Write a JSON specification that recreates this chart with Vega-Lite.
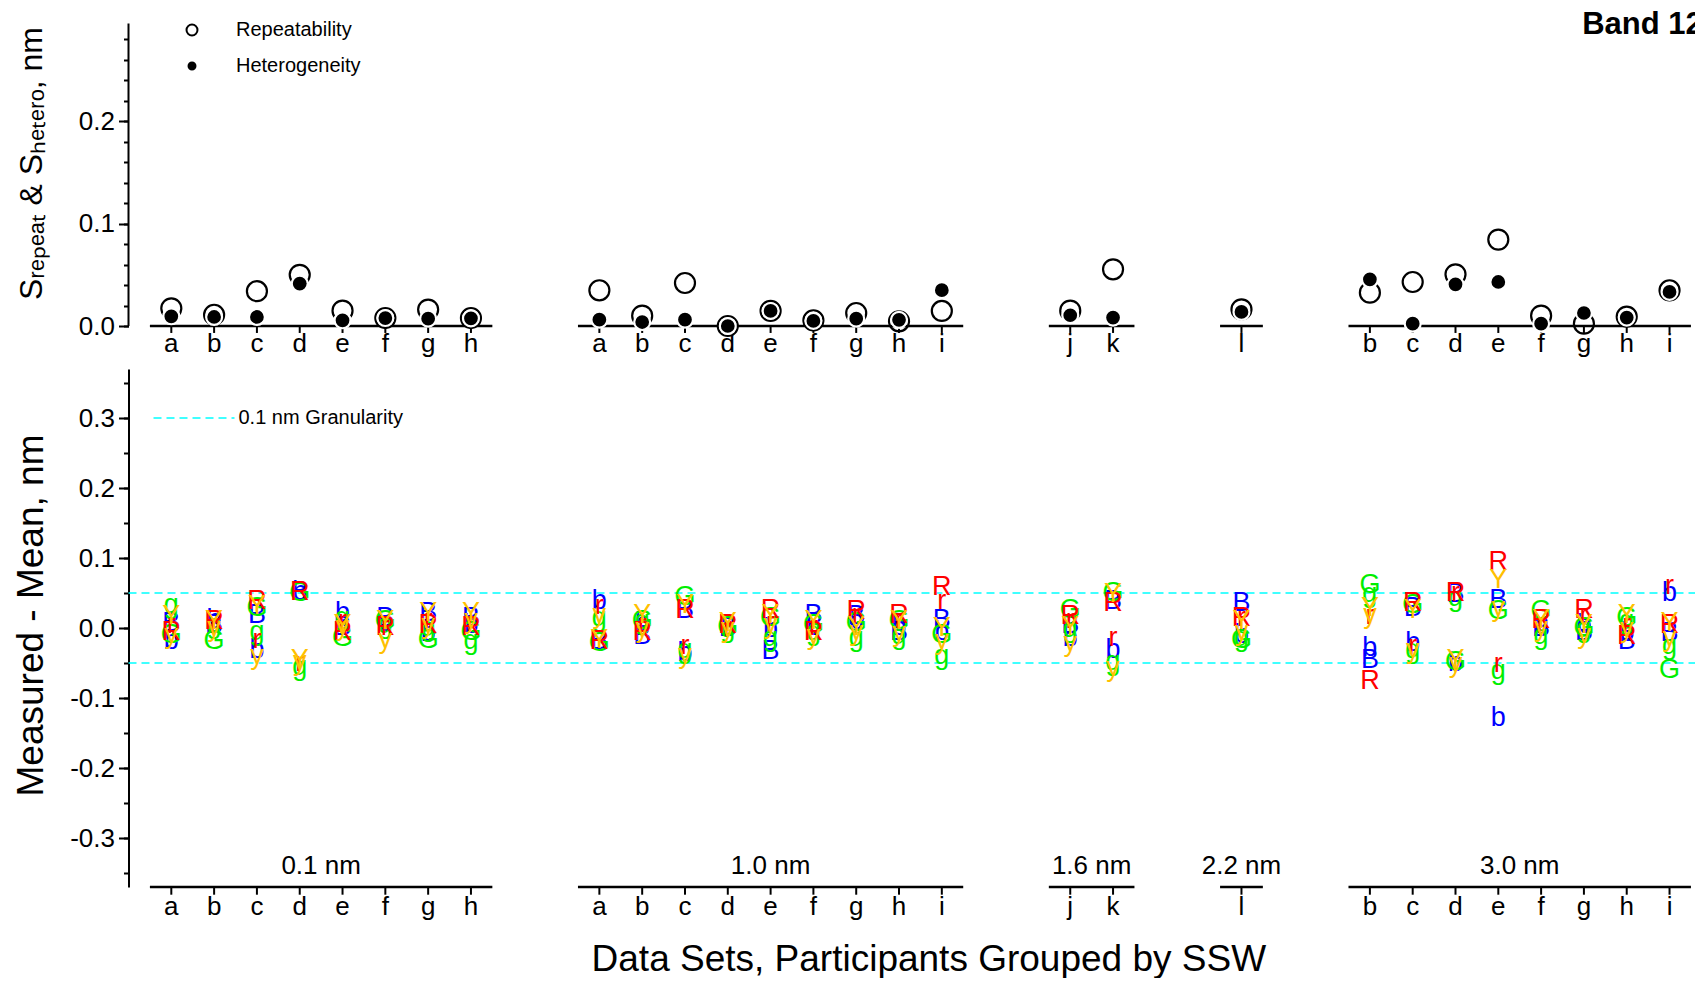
{
  "$schema": "https://vega.github.io/schema/vega-lite/v6.json",
  "padding": {"left": 11.5, "top": 0, "right": 0, "bottom": 0},
  "autosize": {"type": "pad"},
  "background": "white",
  "spacing": 43,
  "bounds": "flush",
  "title": {"text": "Data Sets, Participants Grouped by SSW", "orient": "bottom", "anchor": "middle", "fontSize": 37, "font": "Liberation Sans", "fontWeight": "normal", "color": "black", "offset": 22, "dx": 74},
  "resolve": {
    "scale": {"stroke": "independent", "fill": "independent", "size": "independent", "color": "independent"},
    "legend": {"stroke": "independent", "fill": "independent", "size": "independent", "color": "independent"}
  },
  "config": {
    "view": {"stroke": null},
    "font": "Liberation Sans",
    "axis": {"grid": false, "domainColor": "black", "tickColor": "black", "labelColor": "black", "titleColor": "black", "labelFont": "Liberation Sans", "titleFont": "Liberation Sans", "titleFontWeight": "normal"},
    "text": {"font": "Liberation Sans", "color": "black"}
  },
  "datasets": {
    "top": [
      {"s": 0, "k": "Repeatability", "v": 0.0173}, {"s": 1, "k": "Repeatability", "v": 0.011}, {"s": 2, "k": "Repeatability", "v": 0.034}, {"s": 3, "k": "Repeatability", "v": 0.050}, {"s": 4, "k": "Repeatability", "v": 0.015}, {"s": 5, "k": "Repeatability", "v": 0.0078}, {"s": 6, "k": "Repeatability", "v": 0.016}, {"s": 7, "k": "Repeatability", "v": 0.0078},
      {"s": 10, "k": "Repeatability", "v": 0.0349}, {"s": 11, "k": "Repeatability", "v": 0.0101}, {"s": 12, "k": "Repeatability", "v": 0.042}, {"s": 13, "k": "Repeatability", "v": 0.0}, {"s": 14, "k": "Repeatability", "v": 0.0147}, {"s": 15, "k": "Repeatability", "v": 0.0056}, {"s": 16, "k": "Repeatability", "v": 0.0127}, {"s": 17, "k": "Repeatability", "v": 0.0046}, {"s": 18, "k": "Repeatability", "v": 0.0147},
      {"s": 21, "k": "Repeatability", "v": 0.015}, {"s": 22, "k": "Repeatability", "v": 0.0554},
      {"s": 25, "k": "Repeatability", "v": 0.0163},
      {"s": 28, "k": "Repeatability", "v": 0.0326}, {"s": 29, "k": "Repeatability", "v": 0.043}, {"s": 30, "k": "Repeatability", "v": 0.0505}, {"s": 31, "k": "Repeatability", "v": 0.0844}, {"s": 32, "k": "Repeatability", "v": 0.0101}, {"s": 33, "k": "Repeatability", "v": 0.0023}, {"s": 34, "k": "Repeatability", "v": 0.0092}, {"s": 35, "k": "Repeatability", "v": 0.0349},
      {"s": 0, "k": "Heterogeneity", "v": 0.0095}, {"s": 1, "k": "Heterogeneity", "v": 0.0088}, {"s": 2, "k": "Heterogeneity", "v": 0.0088}, {"s": 3, "k": "Heterogeneity", "v": 0.0414}, {"s": 4, "k": "Heterogeneity", "v": 0.0056}, {"s": 5, "k": "Heterogeneity", "v": 0.0078}, {"s": 6, "k": "Heterogeneity", "v": 0.0072}, {"s": 7, "k": "Heterogeneity", "v": 0.0075},
      {"s": 10, "k": "Heterogeneity", "v": 0.0062}, {"s": 11, "k": "Heterogeneity", "v": 0.0039}, {"s": 12, "k": "Heterogeneity", "v": 0.0062}, {"s": 13, "k": "Heterogeneity", "v": 0.0}, {"s": 14, "k": "Heterogeneity", "v": 0.0147}, {"s": 15, "k": "Heterogeneity", "v": 0.005}, {"s": 16, "k": "Heterogeneity", "v": 0.0072}, {"s": 17, "k": "Heterogeneity", "v": 0.006}, {"s": 18, "k": "Heterogeneity", "v": 0.035},
      {"s": 21, "k": "Heterogeneity", "v": 0.0105}, {"s": 22, "k": "Heterogeneity", "v": 0.0082},
      {"s": 25, "k": "Heterogeneity", "v": 0.0137},
      {"s": 28, "k": "Heterogeneity", "v": 0.0456}, {"s": 29, "k": "Heterogeneity", "v": 0.0023}, {"s": 30, "k": "Heterogeneity", "v": 0.0407}, {"s": 31, "k": "Heterogeneity", "v": 0.043}, {"s": 32, "k": "Heterogeneity", "v": 0.0023}, {"s": 33, "k": "Heterogeneity", "v": 0.0127}, {"s": 34, "k": "Heterogeneity", "v": 0.0082}, {"s": 35, "k": "Heterogeneity", "v": 0.0333}
    ],
    "cats": [
      {"s": 0, "lab": "a"}, {"s": 1, "lab": "b"}, {"s": 2, "lab": "c"}, {"s": 3, "lab": "d"}, {"s": 4, "lab": "e"}, {"s": 5, "lab": "f"}, {"s": 6, "lab": "g"}, {"s": 7, "lab": "h"},
      {"s": 10, "lab": "a"}, {"s": 11, "lab": "b"}, {"s": 12, "lab": "c"}, {"s": 13, "lab": "d"}, {"s": 14, "lab": "e"}, {"s": 15, "lab": "f"}, {"s": 16, "lab": "g"}, {"s": 17, "lab": "h"}, {"s": 18, "lab": "i"},
      {"s": 21, "lab": "j"}, {"s": 22, "lab": "k"},
      {"s": 25, "lab": "l"},
      {"s": 28, "lab": "b"}, {"s": 29, "lab": "c"}, {"s": 30, "lab": "d"}, {"s": 31, "lab": "e"}, {"s": 32, "lab": "f"}, {"s": 33, "lab": "g"}, {"s": 34, "lab": "h"}, {"s": 35, "lab": "i"}
    ],
    "groups": [
      {"s": -0.5, "s1": 7.5, "m": 3.5, "g": "0.1 nm"},
      {"s": 9.5, "s1": 18.5, "m": 14, "g": "1.0 nm"},
      {"s": 20.5, "s1": 22.5, "m": 21.5, "g": "1.6 nm"},
      {"s": 24.5, "s1": 25.5, "m": 25, "g": "2.2 nm"},
      {"s": 27.5, "s1": 35.5, "m": 31.5, "g": "3.0 nm"}
    ],
    "letters": [
      {"s": 0, "L": "B", "v": 0.007}, {"s": 0, "L": "b", "v": -0.019}, {"s": 0, "L": "G", "v": -0.01}, {"s": 0, "L": "g", "v": 0.033}, {"s": 0, "L": "R", "v": -0.005}, {"s": 0, "L": "r", "v": 0.005}, {"s": 0, "L": "Y", "v": 0.017}, {"s": 0, "L": "y", "v": -0.01},
      {"s": 1, "L": "B", "v": 0.005}, {"s": 1, "L": "b", "v": 0.012}, {"s": 1, "L": "G", "v": -0.019}, {"s": 1, "L": "g", "v": 0.005}, {"s": 1, "L": "R", "v": 0.01}, {"s": 1, "L": "r", "v": 0.005}, {"s": 1, "L": "Y", "v": 0.01}, {"s": 1, "L": "y", "v": 0.0},
      {"s": 2, "L": "B", "v": 0.019}, {"s": 2, "L": "b", "v": -0.031}, {"s": 2, "L": "G", "v": 0.028}, {"s": 2, "L": "g", "v": -0.005}, {"s": 2, "L": "R", "v": 0.038}, {"s": 2, "L": "r", "v": -0.017}, {"s": 2, "L": "Y", "v": 0.031}, {"s": 2, "L": "y", "v": -0.04},
      {"s": 3, "L": "B", "v": 0.052}, {"s": 3, "L": "b", "v": 0.052}, {"s": 3, "L": "G", "v": 0.05}, {"s": 3, "L": "g", "v": -0.055}, {"s": 3, "L": "R", "v": 0.052}, {"s": 3, "L": "r", "v": -0.05}, {"s": 3, "L": "Y", "v": -0.045}, {"s": 3, "L": "y", "v": -0.048},
      {"s": 4, "L": "B", "v": 0.002}, {"s": 4, "L": "b", "v": 0.021}, {"s": 4, "L": "G", "v": -0.014}, {"s": 4, "L": "g", "v": 0.014}, {"s": 4, "L": "R", "v": -0.005}, {"s": 4, "L": "r", "v": 0.01}, {"s": 4, "L": "Y", "v": 0.005}, {"s": 4, "L": "y", "v": 0.002},
      {"s": 5, "L": "B", "v": 0.014}, {"s": 5, "L": "b", "v": 0.007}, {"s": 5, "L": "G", "v": 0.01}, {"s": 5, "L": "g", "v": 0.005}, {"s": 5, "L": "R", "v": 0.002}, {"s": 5, "L": "r", "v": 0.002}, {"s": 5, "L": "Y", "v": 0.01}, {"s": 5, "L": "y", "v": -0.017},
      {"s": 6, "L": "B", "v": 0.021}, {"s": 6, "L": "b", "v": -0.007}, {"s": 6, "L": "G", "v": -0.017}, {"s": 6, "L": "g", "v": 0.0}, {"s": 6, "L": "R", "v": 0.005}, {"s": 6, "L": "r", "v": 0.012}, {"s": 6, "L": "Y", "v": 0.021}, {"s": 6, "L": "y", "v": 0.005},
      {"s": 7, "L": "B", "v": 0.014}, {"s": 7, "L": "b", "v": 0.005}, {"s": 7, "L": "G", "v": -0.005}, {"s": 7, "L": "g", "v": -0.019}, {"s": 7, "L": "R", "v": 0.002}, {"s": 7, "L": "r", "v": 0.007}, {"s": 7, "L": "Y", "v": 0.021}, {"s": 7, "L": "y", "v": 0.012},
      {"s": 10, "L": "B", "v": -0.019}, {"s": 10, "L": "b", "v": 0.038}, {"s": 10, "L": "G", "v": -0.021}, {"s": 10, "L": "g", "v": 0.014}, {"s": 10, "L": "R", "v": -0.019}, {"s": 10, "L": "r", "v": 0.031}, {"s": 10, "L": "Y", "v": -0.017}, {"s": 10, "L": "y", "v": 0.019},
      {"s": 11, "L": "B", "v": -0.012}, {"s": 11, "L": "b", "v": 0.007}, {"s": 11, "L": "G", "v": 0.01}, {"s": 11, "L": "g", "v": 0.01}, {"s": 11, "L": "R", "v": -0.005}, {"s": 11, "L": "r", "v": 0.005}, {"s": 11, "L": "Y", "v": 0.019}, {"s": 11, "L": "y", "v": -0.002},
      {"s": 12, "L": "B", "v": 0.026}, {"s": 12, "L": "b", "v": -0.036}, {"s": 12, "L": "G", "v": 0.045}, {"s": 12, "L": "g", "v": -0.031}, {"s": 12, "L": "R", "v": 0.026}, {"s": 12, "L": "r", "v": -0.026}, {"s": 12, "L": "Y", "v": 0.033}, {"s": 12, "L": "y", "v": -0.038},
      {"s": 13, "L": "B", "v": 0.0}, {"s": 13, "L": "b", "v": 0.0}, {"s": 13, "L": "G", "v": 0.002}, {"s": 13, "L": "g", "v": -0.002}, {"s": 13, "L": "R", "v": 0.005}, {"s": 13, "L": "r", "v": 0.0}, {"s": 13, "L": "Y", "v": 0.007}, {"s": 13, "L": "y", "v": -0.002},
      {"s": 14, "L": "B", "v": -0.033}, {"s": 14, "L": "b", "v": -0.002}, {"s": 14, "L": "G", "v": 0.014}, {"s": 14, "L": "g", "v": -0.014}, {"s": 14, "L": "R", "v": 0.026}, {"s": 14, "L": "r", "v": 0.007}, {"s": 14, "L": "Y", "v": 0.019}, {"s": 14, "L": "y", "v": 0.005},
      {"s": 15, "L": "B", "v": 0.019}, {"s": 15, "L": "b", "v": 0.002}, {"s": 15, "L": "G", "v": 0.005}, {"s": 15, "L": "g", "v": -0.005}, {"s": 15, "L": "R", "v": -0.005}, {"s": 15, "L": "r", "v": 0.002}, {"s": 15, "L": "Y", "v": 0.01}, {"s": 15, "L": "y", "v": -0.012},
      {"s": 16, "L": "B", "v": 0.017}, {"s": 16, "L": "b", "v": 0.01}, {"s": 16, "L": "G", "v": 0.007}, {"s": 16, "L": "g", "v": -0.014}, {"s": 16, "L": "R", "v": 0.024}, {"s": 16, "L": "r", "v": 0.019}, {"s": 16, "L": "Y", "v": 0.002}, {"s": 16, "L": "y", "v": -0.005},
      {"s": 17, "L": "B", "v": -0.005}, {"s": 17, "L": "b", "v": 0.002}, {"s": 17, "L": "G", "v": 0.01}, {"s": 17, "L": "g", "v": -0.012}, {"s": 17, "L": "R", "v": 0.019}, {"s": 17, "L": "r", "v": 0.012}, {"s": 17, "L": "Y", "v": 0.01}, {"s": 17, "L": "y", "v": -0.007},
      {"s": 18, "L": "B", "v": 0.012}, {"s": 18, "L": "b", "v": -0.005}, {"s": 18, "L": "G", "v": -0.01}, {"s": 18, "L": "g", "v": -0.04}, {"s": 18, "L": "R", "v": 0.059}, {"s": 18, "L": "r", "v": 0.038}, {"s": 18, "L": "Y", "v": 0.0}, {"s": 18, "L": "y", "v": -0.019},
      {"s": 21, "L": "B", "v": 0.005}, {"s": 21, "L": "b", "v": -0.014}, {"s": 21, "L": "G", "v": 0.026}, {"s": 21, "L": "g", "v": -0.002}, {"s": 21, "L": "R", "v": 0.017}, {"s": 21, "L": "r", "v": 0.012}, {"s": 21, "L": "Y", "v": 0.002}, {"s": 21, "L": "y", "v": -0.021},
      {"s": 22, "L": "B", "v": 0.038}, {"s": 22, "L": "b", "v": -0.031}, {"s": 22, "L": "G", "v": 0.05}, {"s": 22, "L": "g", "v": -0.048}, {"s": 22, "L": "R", "v": 0.036}, {"s": 22, "L": "r", "v": -0.014}, {"s": 22, "L": "Y", "v": 0.048}, {"s": 22, "L": "y", "v": -0.057},
      {"s": 25, "L": "B", "v": 0.036}, {"s": 25, "L": "b", "v": -0.01}, {"s": 25, "L": "G", "v": -0.017}, {"s": 25, "L": "g", "v": -0.014}, {"s": 25, "L": "R", "v": 0.014}, {"s": 25, "L": "r", "v": 0.014}, {"s": 25, "L": "Y", "v": 0.01}, {"s": 25, "L": "y", "v": -0.005},
      {"s": 28, "L": "B", "v": -0.045}, {"s": 28, "L": "b", "v": -0.029}, {"s": 28, "L": "G", "v": 0.062}, {"s": 28, "L": "g", "v": 0.048}, {"s": 28, "L": "R", "v": -0.076}, {"s": 28, "L": "r", "v": 0.017}, {"s": 28, "L": "Y", "v": 0.029}, {"s": 28, "L": "y", "v": 0.019},
      {"s": 29, "L": "B", "v": 0.029}, {"s": 29, "L": "b", "v": -0.021}, {"s": 29, "L": "G", "v": 0.033}, {"s": 29, "L": "g", "v": -0.031}, {"s": 29, "L": "R", "v": 0.036}, {"s": 29, "L": "r", "v": -0.026}, {"s": 29, "L": "Y", "v": 0.026}, {"s": 29, "L": "y", "v": -0.031},
      {"s": 30, "L": "B", "v": 0.048}, {"s": 30, "L": "b", "v": -0.05}, {"s": 30, "L": "G", "v": -0.048}, {"s": 30, "L": "g", "v": 0.043}, {"s": 30, "L": "R", "v": 0.05}, {"s": 30, "L": "r", "v": 0.05}, {"s": 30, "L": "Y", "v": -0.045}, {"s": 30, "L": "y", "v": -0.052},
      {"s": 31, "L": "B", "v": 0.04}, {"s": 31, "L": "b", "v": -0.129}, {"s": 31, "L": "G", "v": 0.024}, {"s": 31, "L": "g", "v": -0.062}, {"s": 31, "L": "R", "v": 0.095}, {"s": 31, "L": "r", "v": -0.052}, {"s": 31, "L": "Y", "v": 0.069}, {"s": 31, "L": "y", "v": 0.029},
      {"s": 32, "L": "B", "v": 0.0}, {"s": 32, "L": "b", "v": 0.003}, {"s": 32, "L": "G", "v": 0.024}, {"s": 32, "L": "g", "v": -0.012}, {"s": 32, "L": "R", "v": 0.012}, {"s": 32, "L": "r", "v": 0.005}, {"s": 32, "L": "Y", "v": 0.012}, {"s": 32, "L": "y", "v": 0.0},
      {"s": 33, "L": "B", "v": -0.005}, {"s": 33, "L": "b", "v": 0.005}, {"s": 33, "L": "G", "v": 0.0}, {"s": 33, "L": "g", "v": -0.002}, {"s": 33, "L": "R", "v": 0.026}, {"s": 33, "L": "r", "v": 0.019}, {"s": 33, "L": "Y", "v": 0.005}, {"s": 33, "L": "y", "v": -0.01},
      {"s": 34, "L": "B", "v": -0.019}, {"s": 34, "L": "b", "v": -0.007}, {"s": 34, "L": "G", "v": 0.014}, {"s": 34, "L": "g", "v": 0.01}, {"s": 34, "L": "R", "v": -0.012}, {"s": 34, "L": "r", "v": 0.005}, {"s": 34, "L": "Y", "v": 0.019}, {"s": 34, "L": "y", "v": -0.002},
      {"s": 35, "L": "B", "v": -0.007}, {"s": 35, "L": "b", "v": 0.05}, {"s": 35, "L": "G", "v": -0.06}, {"s": 35, "L": "g", "v": -0.026}, {"s": 35, "L": "R", "v": 0.005}, {"s": 35, "L": "r", "v": 0.06}, {"s": 35, "L": "Y", "v": 0.007}, {"s": 35, "L": "y", "v": -0.014}
    ]
  },
  "vconcat": [
    {
      "width": 1568,
      "height": 326,
      "resolve": {"axis": {"y": "independent"}},
      "layer": [
        {
          "data": {"values": [{"a": 0, "b": 0.2955}]},
          "mark": {"type": "rule", "color": "black", "strokeWidth": 2},
          "encoding": {
            "x": {"datum": -1, "type": "quantitative", "scale": {"domain": [-1, 35.63], "nice": false, "zero": false}, "axis": null},
            "y": {
              "field": "a", "type": "quantitative", "scale": {"domain": [0, 0.3185], "nice": false, "zero": false},
              "axis": {"orient": "left", "values": [0, 0.02, 0.04, 0.06, 0.08, 0.1, 0.12, 0.14, 0.16, 0.18, 0.2, 0.22, 0.24, 0.26, 0.28], "domain": false, "labels": false, "tickSize": 5, "tickWidth": 2, "title": null}
            },
            "y2": {"field": "b"}
          }
        },
        {
          "data": {"name": "groups"},
          "mark": {"type": "rule", "color": "black", "strokeWidth": 2.5},
          "encoding": {
            "x": {"field": "s", "type": "quantitative", "axis": null},
            "x2": {"field": "s1"},
            "y": {"datum": 0, "type": "quantitative", "axis": null}
          }
        },
        {
          "data": {"name": "cats"},
          "mark": {"type": "rule", "color": "black", "strokeWidth": 2},
          "encoding": {
            "x": {"field": "s", "type": "quantitative", "axis": null},
            "y": {"datum": 0, "type": "quantitative", "axis": null},
            "y2": {"datum": -0.0068}
          }
        },
        {
          "data": {"name": "cats"},
          "mark": {"type": "text", "fontSize": 26, "baseline": "middle", "align": "center", "dy": 18},
          "encoding": {
            "x": {"field": "s", "type": "quantitative", "axis": null},
            "y": {"datum": 0, "type": "quantitative", "axis": null},
            "text": {"field": "lab"}
          }
        },
        {
          "data": {"name": "top"},
          "mark": {"type": "point", "shape": "circle", "strokeWidth": 2.2, "opacity": 1},
          "encoding": {
            "x": {"field": "s", "type": "quantitative", "axis": null},
            "y": {
              "field": "v", "type": "quantitative",
              "axis": {
                "orient": "left",
                "values": [0, 0.1, 0.2],
                "format": ".1f",
                "domain": false,
                "tickWidth": 2,
                "tickSize": 10,
                "labelOverlap": false,
                "labelFlush": false,
                "labelFontSize": 26,
                "labelPadding": 4,
                "title": "Sᵣₑₚₑₐₜ & Sₕₑₜₑᵣₒ, nm",
                "titleFontSize": 32,
                "titleX": -97,
                "titleY": 163,
                "titleBaseline": "middle",
                "titleAngle": 270
              }
            },
            "fill": {
              "field": "k", "type": "nominal",
              "scale": {"domain": ["Repeatability", "Heterogeneity"], "range": ["transparent", "black"]},
              "legend": {"title": null, "orient": "none", "legendX": 53.5, "legendY": 20, "labelFontSize": 20, "labelFont": "Liberation Sans", "labelColor": "black", "symbolSize": 120, "symbolStrokeWidth": 2, "symbolType": "circle", "labelOffset": 34, "rowPadding": 16, "padding": 0, "labelLimit": 500}
            },
            "stroke": {
              "field": "k", "type": "nominal",
              "scale": {"domain": ["Repeatability", "Heterogeneity"], "range": ["black", "white"]},
              "legend": {"title": null, "orient": "none", "legendX": 53.5, "legendY": 20, "labelFontSize": 20, "labelFont": "Liberation Sans", "labelColor": "black", "symbolSize": 120, "symbolStrokeWidth": 2, "symbolType": "circle", "labelOffset": 34, "rowPadding": 16, "padding": 0, "labelLimit": 500}
            },
            "size": {
              "field": "k", "type": "nominal",
              "scale": {"domain": ["Heterogeneity", "Repeatability"], "range": [254, 401]},
              "legend": null
            }
          }
        },
        {
          "data": {"values": [{"t": "Band 12"}]},
          "mark": {"type": "text", "fontSize": 31, "fontWeight": "bold", "align": "left", "baseline": "middle", "clip": true},
          "encoding": {
            "x": {"datum": 32.96, "type": "quantitative", "axis": null},
            "y": {"datum": 0.294, "type": "quantitative", "axis": null},
            "text": {"field": "t"}
          }
        }
      ]
    },
    {
      "width": 1568,
      "height": 518,
      "resolve": {"axis": {"y": "independent"}},
      "layer": [
        {
          "data": {"values": [{"y": 0.05}, {"y": -0.05}]},
          "mark": {"type": "rule", "strokeWidth": 1.3, "strokeDash": [8, 5]},
          "encoding": {
            "y": {
              "field": "y", "type": "quantitative", "scale": {"domain": [-0.37, 0.37], "nice": false, "zero": false},
              "axis": {"orient": "left", "values": [-0.35, -0.3, -0.25, -0.2, -0.15, -0.1, -0.05, 0, 0.05, 0.1, 0.15, 0.2, 0.25, 0.3, 0.35], "domain": false, "labels": false, "tickSize": 5, "tickWidth": 2, "title": null}
            },
            "stroke": {
              "datum": "0.1 nm Granularity", "type": "nominal",
              "scale": {"range": ["#00FFFF"]},
              "legend": {"title": null, "orient": "none", "legendX": 24, "legendY": 7.5, "labelFontSize": 20, "labelFont": "Liberation Sans", "labelColor": "black", "labelLimit": 500, "symbolType": "stroke", "symbolSize": 6561, "symbolStrokeWidth": 1.3, "symbolDash": [8, 5], "labelOffset": 3, "padding": 0}
            }
          }
        },
        {
          "data": {"name": "letters"},
          "mark": {"type": "text", "fontSize": 27, "baseline": "middle", "align": "center"},
          "encoding": {
            "x": {
              "field": "s", "type": "quantitative",
              "scale": {"domain": [-1, 35.63], "nice": false, "zero": false},
              "axis": null
            },
            "y": {
              "field": "v", "type": "quantitative",
              "axis": {
                "orient": "left",
                "values": [-0.3, -0.2, -0.1, 0, 0.1, 0.2, 0.3],
                "domainWidth": 2,
                "tickWidth": 2,
                "tickSize": 10,
                "labelExpr": "(datum.value < -0.001 ? '-' : '') + format(abs(datum.value), '.1f')",
                "labelOverlap": false,
                "labelFlush": false,
                "labelFontSize": 26,
                "labelPadding": 4,
                "title": "Measured - Mean, nm",
                "titleFontSize": 37,
                "titleX": -97,
                "titleY": 246,
                "titleBaseline": "middle",
                "titleAngle": 270
              }
            },
            "text": {"field": "L"},
            "color": {
              "field": "L", "type": "nominal",
              "scale": {"domain": ["B", "b", "G", "g", "R", "r", "Y", "y"], "range": ["#0000FF", "#0000FF", "#00EE00", "#00EE00", "#FF0000", "#FF0000", "#FFC000", "#FFC000"]},
              "legend": null
            }
          }
        },
        {
          "data": {"name": "groups"},
          "mark": {"type": "rule", "color": "black", "strokeWidth": 2.5},
          "encoding": {
            "x": {"field": "s", "type": "quantitative", "axis": null},
            "x2": {"field": "s1"},
            "y": {"datum": -0.37, "type": "quantitative", "axis": null}
          }
        },
        {
          "data": {"name": "cats"},
          "mark": {"type": "rule", "color": "black", "strokeWidth": 2},
          "encoding": {
            "x": {"field": "s", "type": "quantitative", "axis": null},
            "y": {"datum": -0.37, "type": "quantitative", "axis": null},
            "y2": {"datum": -0.381}
          }
        },
        {
          "data": {"name": "cats"},
          "mark": {"type": "text", "fontSize": 26, "baseline": "middle", "align": "center", "dy": 20},
          "encoding": {
            "x": {"field": "s", "type": "quantitative", "axis": null},
            "y": {"datum": -0.37, "type": "quantitative", "axis": null},
            "text": {"field": "lab"}
          }
        },
        {
          "data": {"name": "groups"},
          "mark": {"type": "text", "fontSize": 26, "baseline": "middle", "align": "center", "dy": -21},
          "encoding": {
            "x": {"field": "m", "type": "quantitative", "axis": null},
            "y": {"datum": -0.37, "type": "quantitative", "axis": null},
            "text": {"field": "g"}
          }
        }
      ]
    }
  ]
}
